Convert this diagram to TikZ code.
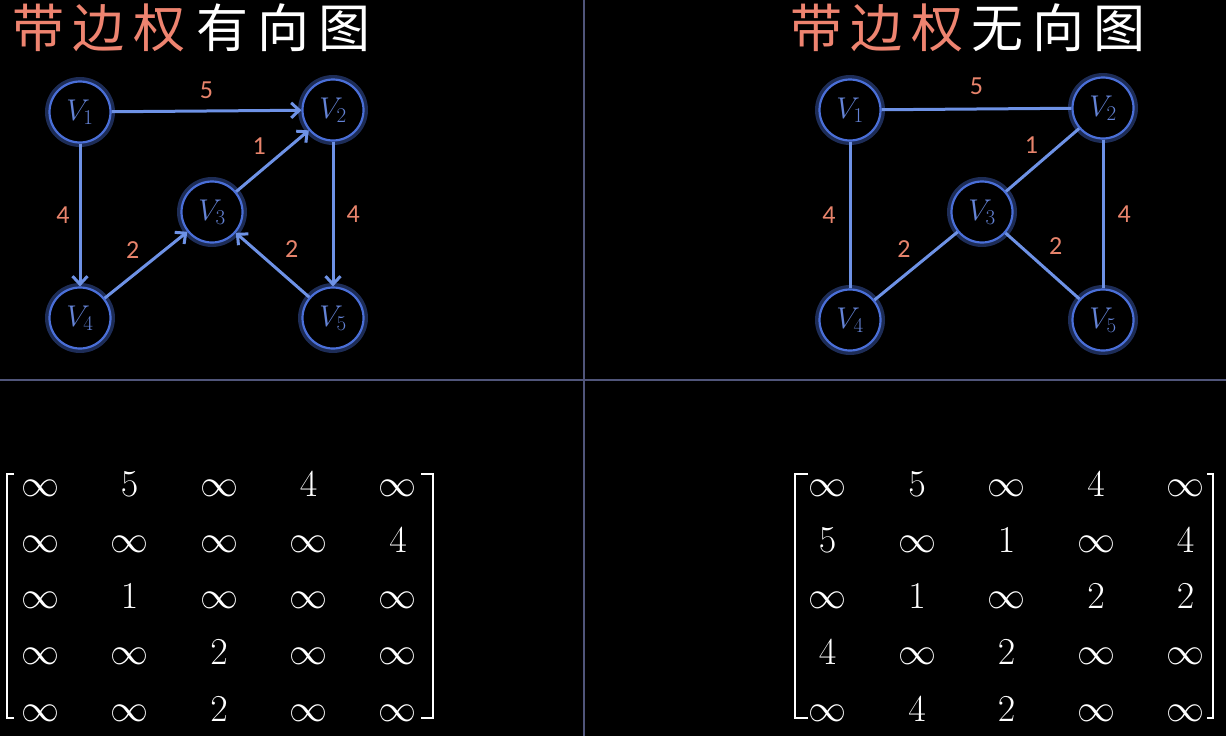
\documentclass[tikz,border=0pt]{standalone}
\usepackage{fix-cm}
\usepackage{fontspec}
\newfontfamily\cjk[LetterSpace=17]{Noto Sans CJK SC}
\newfontfamily\lblfont{Carlito}
\usetikzlibrary{arrows.meta,positioning,matrix}
\definecolor{ttlred}{HTML}{EE8470}
\definecolor{vblue}{HTML}{4A6FD8}
\definecolor{eblue}{HTML}{6E92E6}
\definecolor{vtext}{HTML}{6483D6}
\definecolor{wred}{HTML}{E8846C}
\definecolor{divgray}{HTML}{50557A}
\tikzset{
  vtx/.style={circle,draw=vblue,line width=2.2pt,fill=black,minimum size=61pt,
    inner sep=0pt,text=vtext,font=\fontsize{30}{32}\selectfont,
    preaction={draw=vblue,line width=9pt,opacity=0.4}},
  wedge/.style={eblue,line width=3pt},
  warc/.style={wedge,-{Straight Barb[length=8pt,width=15pt]}},
  wlbl/.style={text=wred,font=\lblfont\fontsize{26}{28}\selectfont,inner sep=3pt},
  ttl/.style={font=\cjk\fontsize{52}{54}\selectfont,inner sep=0pt,anchor=base west},
  divline/.style={divgray,line width=1.6pt},
  wmat/.style={matrix of math nodes,column sep=0pt,row sep=0pt,
    nodes={text=white,minimum width=89.5pt,minimum height=56.25pt,inner sep=0pt,
      text height=0.644em,text depth=0pt,font=\fontsize{38}{40}\selectfont}},
  brk/.style={white,line width=1.8pt},
}
\begin{document}
\begin{tikzpicture}[x=1pt,y=-1pt]
  \useasboundingbox (0,0) rectangle (1226,736);
  \fill[black] (0,0) rectangle (1226,736);
  % dividers
  \draw[divline] (584,0) -- (584,736);
  \draw[divline] (0,380) -- (1226,380);
  % titles
  \node[ttl] (ttlL) at (12,47.5) {{\color{ttlred}带边权}\hspace{11pt}{\color{white}有向图}};
  \node[ttl] (ttlR) at (790,47.5) {{\color{ttlred}带边权}\hspace{8pt}{\color{white}无向图}};

  % directed graph
  \node[vtx] (a1) at (80,112) {$V_1$};
  \node[vtx] (a2) at (333,110) {$V_2$};
  \node[vtx] (a3) at (212,212) {$V_3$};
  \node[vtx] (a4) at (80,318) {$V_4$};
  \node[vtx] (a5) at (333,318) {$V_5$};
  \draw[warc] (a1) -- node[wlbl,above=8pt] {5} (a2);
  \draw[warc] (a1) -- node[wlbl,left=6pt] {4} (a4);
  \draw[warc] (a2) -- node[wlbl,right=9pt] {4} (a5);
  \draw[warc] (a3) -- node[wlbl,above left=3pt] {1} (a2);
  \draw[warc] (a4) -- node[wlbl,above left=3pt] {2} (a3);
  \draw[warc] (a5) -- node[wlbl,above right=3pt and 8pt] {2} (a3);

  % undirected graph
  \node[vtx] (b1) at (850,110) {$V_1$};
  \node[vtx] (b2) at (1103,108) {$V_2$};
  \node[vtx] (b3) at (982,212) {$V_3$};
  \node[vtx] (b4) at (850,320) {$V_4$};
  \node[vtx] (b5) at (1103,320) {$V_5$};
  \draw[wedge] (b1) -- node[wlbl,above=10pt] {5} (b2);
  \draw[wedge] (b1) -- node[wlbl,left=10pt] {4} (b4);
  \draw[wedge] (b2) -- node[wlbl,right=10pt] {4} (b5);
  \draw[wedge] (b3) -- node[wlbl,above left=2pt and 0pt] {1} (b2);
  \draw[wedge] (b4) -- node[wlbl,above left=4pt and 1pt] {2} (b3);
  \draw[wedge] (b5) -- node[wlbl,above right=7pt and 2pt] {2} (b3);

  % weight matrices
  \matrix[wmat] (dmat) at (219,605.5) {
    \infty & 5 & \infty & 4 & \infty \\
    \infty & \infty & \infty & \infty & 4 \\
    \infty & 1 & \infty & \infty & \infty \\
    \infty & \infty & 2 & \infty & \infty \\
    \infty & \infty & 2 & \infty & \infty \\
  };
  \matrix[wmat] (umat) at (1006.5,605.5) {
    \infty & 5 & \infty & 4 & \infty \\
    5 & \infty & 1 & \infty & 4 \\
    \infty & 1 & \infty & 2 & 2 \\
    4 & \infty & 2 & \infty & \infty \\
    \infty & 4 & 2 & \infty & \infty \\
  };
  \draw[brk] (14,474) -- (7,474) -- (7,718) -- (14,718);
  \draw[brk] (421,474) -- (433,474) -- (433,718) -- (421,718);
  \draw[brk] (808,474) -- (795,474) -- (795,718) -- (808,718);
  \draw[brk] (1207,474) -- (1213,474) -- (1213,718) -- (1207,718);
\end{tikzpicture}
\end{document}
